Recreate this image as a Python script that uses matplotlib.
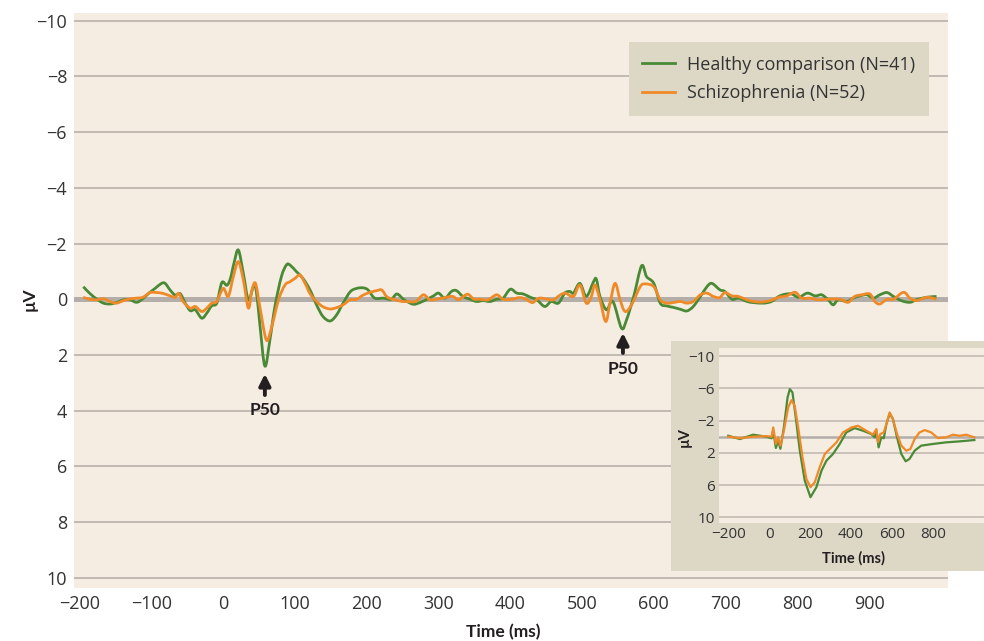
import matplotlib
matplotlib.use("Agg")
import matplotlib.pyplot as plt
from matplotlib.path import Path
from matplotlib.patches import PathPatch
from matplotlib.lines import Line2D

plt.rcParams['font.family'] = ['Open Sans', 'DejaVu Sans']
BOLD = ['Lato', 'DejaVu Sans']

# main panel: P50 paired-click averages (uV, negative up)
healthy_t = [-195, -186, -176, -167, -158, -149, -139, -130, -121, -114, -104, -95, -86, -81, -74, -67,
             -60, -53, -46, -39, -30, -23, -16, -9, -2, 5, 10, 15, 21, 28, 35, 42, 46, 51, 58, 65, 72,
             81, 88, 93, 102, 111, 121, 130, 139, 149, 158, 167, 177, 186, 195, 202, 211, 223, 234,
             242, 251, 256, 265, 274, 284, 293, 300, 309, 318, 325, 334, 344, 353, 362, 372, 381, 390,
             400, 409, 418, 428, 437, 448, 457, 467, 476, 483, 488, 497, 506, 516, 520, 525, 534, 543,
             555, 562, 572, 583, 590, 600, 609, 618, 627, 637, 646, 655, 665, 674, 681, 692, 699, 709,
             718, 730, 739, 753, 764, 774, 783, 792, 802, 814, 825, 834, 843, 850, 857, 869, 878, 887,
             897, 906, 915, 925, 934, 946, 957, 966, 980, 994]
healthy_uv = [-0.45, -0.21, 0.0, 0.14, 0.17, 0.12, 0.02, 0.02, 0.11, 0.02, -0.21, -0.39, -0.57, -0.57,
              -0.33, -0.15, -0.2, 0.14, 0.41, 0.38, 0.68, 0.5, 0.23, 0.14, -0.6, -0.5, -0.75, -1.3,
              -1.77, -0.93, 0.02, -0.45, -0.3, 0.9, 2.4, 1.46, 0.26, -0.81, -1.23, -1.23, -0.99, -0.75,
              -0.33, 0.2, 0.62, 0.78, 0.56, 0.14, -0.27, -0.39, -0.41, -0.33, -0.04, -0.04, 0.0, -0.19,
              0.0, 0.08, 0.18, 0.12, 0.0, -0.12, -0.22, -0.04, -0.28, -0.31, -0.1, 0.0, 0.08, 0.05,
              0.08, 0.0, -0.04, -0.36, -0.22, -0.19, -0.07, 0.02, 0.26, 0.08, 0.14, -0.22, -0.28,
              -0.22, -0.57, -0.1, -0.63, -0.72, -0.1, 0.38, 0.08, 1.04, 0.74, -0.1, -1.2, -0.81, -0.57,
              0.14, 0.24, 0.29, 0.36, 0.42, 0.26, -0.1, -0.45, -0.57, -0.34, -0.28, 0.0, -0.04, 0.08,
              0.12, 0.14, 0.08, -0.1, -0.18, -0.19, -0.07, -0.22, -0.12, -0.16, 0.02, 0.2, 0.02, 0.08,
              -0.04, -0.12, -0.16, -0.04, -0.16, -0.24, -0.1, 0.06, 0.11, 0.02, -0.07, -0.1]

schizo_t = [-195, -186, -176, -167, -158, -149, -139, -130, -121, -112, -102, -93, -84, -74, -67, -62,
            -56, -46, -39, -30, -23, -16, -9, 0, 7, 14, 21, 28, 35, 40, 45, 51, 60, 67, 77, 86, 93, 100,
            107, 114, 121, 130, 139, 149, 158, 167, 177, 186, 195, 205, 214, 221, 228, 237, 249, 256,
            268, 279, 288, 297, 309, 320, 328, 340, 349, 358, 369, 381, 390, 402, 413, 422, 431, 440,
            452, 460, 470, 477, 488, 497, 506, 513, 518, 525, 533, 539, 546, 553, 560, 569, 581, 588,
            600, 609, 618, 627, 637, 646, 655, 665, 674, 683, 692, 699, 709, 718, 730, 739, 750, 762,
            774, 785, 797, 806, 818, 829, 841, 853, 862, 871, 880, 890, 901, 908, 915, 925, 934, 948,
            957, 966, 976, 983, 994]
schizo_uv = [-0.07, 0.0, 0.02, -0.02, 0.08, 0.14, 0.05, -0.01, -0.04, -0.07, -0.24, -0.24, -0.21, -0.12,
             -0.07, -0.21, 0.08, 0.32, 0.26, 0.44, 0.32, 0.14, 0.08, -0.39, -0.1, -0.81, -1.35, -0.69,
             0.32, -0.33, -0.57, 0.27, 1.46, 1.04, 0.02, -0.51, -0.63, -0.75, -0.87, -0.57, -0.2, 0.08,
             0.27, 0.35, 0.3, 0.2, 0.02, 0.0, -0.15, -0.25, -0.31, -0.33, -0.09, 0.0, 0.08, 0.08, 0.08,
             -0.16, 0.02, 0.0, -0.06, -0.1, 0.02, -0.18, -0.01, 0.0, 0.02, -0.16, 0.0, 0.0, -0.06, 0.0,
             0.12, -0.04, 0.0, 0.02, -0.16, -0.22, -0.1, -0.51, 0.14, -0.1, -0.51, 0.02, 0.8, 0.14,
             -0.57, 0.02, 0.44, 0.2, -0.45, -0.55, -0.45, 0.02, 0.14, 0.12, 0.08, 0.14, 0.08, -0.16,
             -0.22, -0.1, -0.06, -0.24, -0.12, -0.1, 0.02, 0.08, 0.1, 0.05, -0.07, -0.12, -0.25, -0.04,
             -0.04, 0.02, 0.0, -0.01, 0.02, 0.11, -0.1, -0.16, -0.19, 0.08, 0.17, 0.0, 0.0, -0.25,
             -0.04, 0.05, -0.04, -0.07, 0.0]

# inset: unfiltered averages
inset_healthy_t = [-200, -143, -78, -13, 12, 20, 33, 44, 55, 72, 90, 101, 114, 130, 150, 174, 202, 231,
                   256, 280, 312, 345, 377, 418, 459, 499, 516, 524, 535, 548, 560, 573, 589, 605, 625,
                   646, 667, 686, 711, 743, 800, 865, 930, 1003]
inset_healthy_uv = [-0.12, 0.29, -0.25, 0.0, 0.2, -0.74, 1.4, 0.5, 1.5, -1.15, -4.86, -5.9, -5.5, -2.4,
                    1.73, 5.44, 7.5, 6.26, 4.2, 2.97, 2.14, 0.9, -0.53, -1.07, -0.74, -0.33, 0.08,
                    -0.74, 1.32, 0.08, 0.2, -1.56, -2.88, -2.18, 0.08, 2.14, 3.05, 2.76, 1.73, 1.11,
                    0.9, 0.7, 0.58, 0.41]
inset_schizo_t = [-200, -143, -78, -13, 12, 20, 33, 44, 55, 72, 93, 109, 125, 142, 163, 182, 202, 223,
                  247, 272, 296, 329, 361, 402, 434, 475, 508, 524, 532, 543, 560, 573, 589, 605, 625,
                  646, 670, 690, 711, 735, 760, 792, 825, 865, 898, 930, 963, 1003]
inset_schizo_uv = [0.0, 0.17, 0.0, -0.08, 0.0, -1.15, 0.9, 0.08, 1.1, -0.74, -3.62, -4.53, -3.83, -1.15,
                   2.56, 5.23, 6.26, 5.65, 3.79, 2.14, 1.53, 0.7, -0.53, -1.15, -1.36, -0.74, -0.25,
                   -0.95, 0.7, -0.33, -0.53, -1.56, -3.0, -2.18, -0.33, 1.11, 1.73, 1.53, 0.29, -0.53,
                   -0.82, -0.53, 0.17, 0.08, -0.25, -0.12, -0.25, 0.08]

labels = ['Healthy comparison (N=41)', 'Schizophrenia (N=52)']
x_ticks = [-200, -100, 0, 100, 200, 300, 400, 500, 600, 700, 800, 900]
y_ticks = [-10, -8, -6, -4, -2, 0, 2, 4, 6, 8, 10]
inset_x_ticks = [-200, 0, 200, 400, 600, 800]
inset_y_ticks = [-10, -6, -2, 2, 6, 10]
p50_times = [58, 557]

GREEN = '#4a8a36'
ORANGE = '#f08a28'
BG = '#f5ede1'
PANEL = '#ddd8c6'
GRID = '#bdb6b0'
TEXT = '#333333'
DARK = '#231f20'


def smooth_path(xs, ys):
    # Catmull-Rom curve through the read points, drawn as cubic Beziers
    pts = list(zip(xs, ys))
    verts = [pts[0]]
    codes = [Path.MOVETO]
    n = len(pts)
    for i in range(n - 1):
        p0 = pts[i - 1] if i > 0 else pts[i]
        p1 = pts[i]
        p2 = pts[i + 1]
        p3 = pts[i + 2] if i + 2 < n else pts[i + 1]
        c1 = (p1[0] + (p2[0] - p0[0]) / 6, p1[1] + (p2[1] - p0[1]) / 6)
        c2 = (p2[0] - (p3[0] - p1[0]) / 6, p2[1] - (p3[1] - p1[1]) / 6)
        verts += [c1, c2, p2]
        codes += [Path.CURVE4] * 3
    return Path(verts, codes)


fig = plt.figure(figsize=(9.84, 6.41), dpi=100)
fig.patch.set_facecolor('white')

ax = fig.add_axes([74 / 984, 1 - 588 / 641, 874 / 984, 575 / 641])
ax.set_facecolor(BG)
for s in ax.spines.values():
    s.set_visible(False)
ax.set_xlim(-208, 1010)
ax.set_ylim(10.37, -10.28)
ax.set_xticks(x_ticks)
ax.set_yticks(y_ticks)
ax.tick_params(length=0, labelsize=13, labelcolor=TEXT, pad=5)
ax.tick_params(axis='x', pad=5)
ax.yaxis.grid(True, color=GRID, lw=1.3)
ax.set_axisbelow(True)
ax.axhline(0, color='#b3aeaa', lw=3.6, zorder=1)

ax.add_patch(PathPatch(smooth_path(healthy_t, healthy_uv), fill=False, edgecolor=GREEN,
                       lw=2.0, zorder=3, joinstyle='round'))
ax.add_patch(PathPatch(smooth_path(schizo_t, schizo_uv), fill=False, edgecolor=ORANGE,
                       lw=2.0, zorder=4, joinstyle='round'))

# P50 markers
arrow_rows = [(2.68, 3.44, 3.97), (1.21, 1.93, 2.5)]
for t, (head, tail, txt) in zip(p50_times, arrow_rows):
    ax.annotate('', xy=(t, head), xytext=(t, tail),
                arrowprops=dict(arrowstyle='-|>', color=DARK, lw=2.8,
                                mutation_scale=17, shrinkA=0, shrinkB=0))
    ax.text(t, txt, 'P50', ha='center', va='center', fontsize=12.5, family=BOLD,
            fontweight='bold', color=DARK)

handles = [Line2D([], [], color=GREEN, lw=2.0), Line2D([], [], color=ORANGE, lw=2.0)]
leg = ax.legend(handles, labels, loc='upper right', bbox_to_anchor=(0.9783, 0.9496),
                borderaxespad=0, fontsize=13, frameon=True, fancybox=False, facecolor=PANEL,
                edgecolor='none', framealpha=1, handlelength=1.8, handletextpad=0.7,
                labelspacing=0.6, borderpad=0.75)
for txt in leg.get_texts():
    txt.set_color(TEXT)

fig.text(30 / 984, 1 - 299 / 641, 'µV', rotation=90, ha='center', va='center',
         fontsize=12.5, family=BOLD, fontweight='bold', color=DARK)
fig.text(503 / 984, 1 - 632 / 641, 'Time (ms)', ha='center', va='center',
         fontsize=12.5, family=BOLD, fontweight='bold', color=DARK)

# inset panel
panel = plt.Rectangle((671 / 984, 1 - 571 / 641), 313 / 984, 230 / 641,
                      transform=fig.transFigure, facecolor=PANEL, edgecolor='none', zorder=5)
fig.patches.append(panel)

ins = fig.add_axes([719 / 984, 1 - 523 / 641, 265 / 984, 175 / 641], zorder=6)
ins.set_facecolor(BG)
for s in ins.spines.values():
    s.set_visible(False)
ins.set_xlim(-245, 1050)
ins.set_ylim(10.7, -11.0)
ins.set_xticks(inset_x_ticks)
ins.set_yticks(inset_y_ticks)
ins.tick_params(length=0, labelsize=11, labelcolor=TEXT, pad=3)
ins.yaxis.grid(True, color=GRID, lw=1.1)
ins.set_axisbelow(True)
ins.axhline(0, color='#b3aeaa', lw=1.8, zorder=1)
ins.plot(inset_healthy_t, inset_healthy_uv, color=GREEN, lw=1.6, zorder=3)
ins.plot(inset_schizo_t, inset_schizo_uv, color=ORANGE, lw=1.6, zorder=4)

fig.text(685 / 984, 1 - 437 / 641, 'µV', rotation=90, ha='center', va='center',
         fontsize=10.5, family=BOLD, fontweight='bold', color=DARK, zorder=7)
fig.text(853 / 984, 1 - 558 / 641, 'Time (ms)', ha='center', va='center',
         fontsize=10.5, family=BOLD, fontweight='bold', color=DARK, zorder=7)

fig.savefig('out.png', dpi=100, facecolor='white')
